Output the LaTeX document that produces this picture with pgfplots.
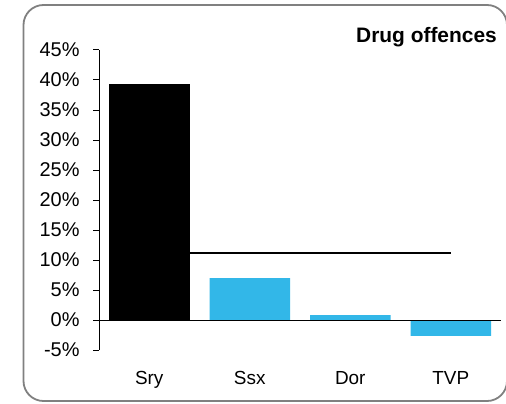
\documentclass[border=0pt]{standalone}
\usepackage{fontspec}
\setmainfont{Liberation Sans}
\usepackage{pgfplots}
\pgfplotsset{compat=1.18}
\definecolor{barblue}{RGB}{50,183,232}
\definecolor{framegray}{RGB}{128,128,128}
\begin{document}
\begin{tikzpicture}[x=1bp,y=1bp]
\useasboundingbox (0,0) rectangle (506,403);
\begin{scope}
\clip (0,0) rectangle (506,403);
\draw[framegray, line width=1.8bp, rounded corners=20bp] (23.5,2) rectangle (507,398);
\end{scope}
\begin{axis}[
 at={(99bp,53bp)}, anchor=south west,
 scale only axis, width=402bp, height=300bp,
 xmin=-0.5, xmax=3.5, ymin=-5, ymax=45,
 axis y line*=left, axis x line*=bottom,
 x axis line style={draw=none},
 xtick style={draw=none},
 ytick={-5,0,...,45},
 yticklabel={\pgfmathprintnumber{\tick}\%},
 xtick={0,1,2,3}, xticklabels={Sry,Ssx,Dor,TVP},
 yticklabel style={font=\fontsize{20}{22}\selectfont, xshift=-10bp},
 xticklabel style={font=\fontsize{19}{21}\selectfont, yshift=-12bp},
 /pgf/number format/assume math mode=true,
 tick align=outside, major tick length=6bp,
 y axis line style={line width=1bp, black},
 ytick style={line width=1bp, black},
 clip=false,
]
\addplot[ybar, bar width=80.5bp, fill=black, draw=none] coordinates {(0,39.3)};
\addplot[ybar, bar width=80.5bp, fill=barblue, draw=none] coordinates {(1,7.0) (2,0.83) (3,-2.65)};
\draw[black, line width=1bp] (axis cs:-0.5,0) -- (axis cs:3.5,0);
\addplot[black, line width=1.6bp, mark=none] coordinates {(0,11.2) (1,11.2) (2,11.2) (3,11.2)};
\end{axis}
\node[anchor=base east, font=\bfseries\fontsize{21}{24}\selectfont, inner sep=0pt] at (497,361) {Drug offences};
\end{tikzpicture}
\end{document}
